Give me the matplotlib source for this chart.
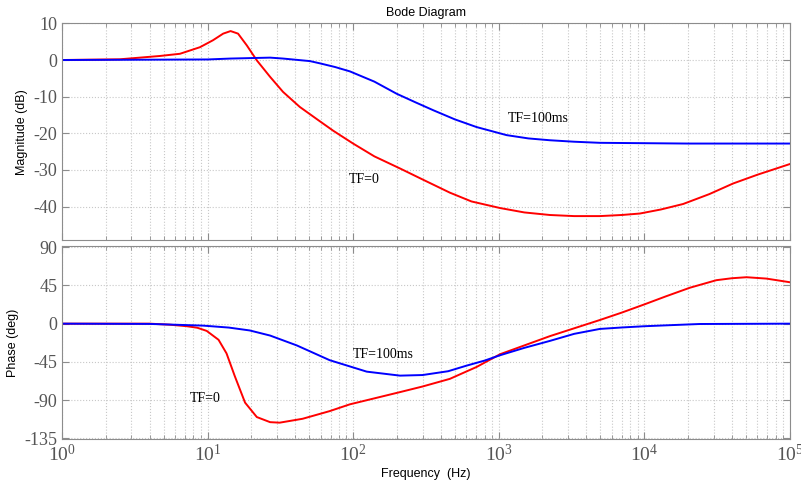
import numpy as np
import matplotlib
matplotlib.use("Agg")
import matplotlib.pyplot as plt
from matplotlib.ticker import LogLocator, FixedLocator, NullFormatter

plt.rcParams['axes.unicode_minus'] = False
plt.rcParams['mathtext.fontset'] = 'custom'
plt.rcParams['mathtext.rm'] = 'Liberation Serif'

# magnitude, TF=0 (red)
mag_red_f = [1, 2.5, 4.7, 6.46, 8.87, 10.9, 12.8, 14.4, 16.2, 18.6, 21.8, 26.9, 33, 43, 59, 73, 100,
             140, 210, 300, 462, 650, 1022, 1500, 2248, 3300, 4955, 7000, 9330, 13000, 18500,
             28000, 40800, 60000, 100000]
mag_red = [0, 0.2, 1.1, 1.7, 3.5, 5.4, 7.2, 7.9, 7.2, 4.0, -0.1, -4.6, -8.7, -12.8, -16.7, -19.3, -22.8,
           -26.3, -29.6, -32.6, -36.2, -38.6, -40.4, -41.6, -42.3, -42.6, -42.6, -42.3, -41.9, -40.8, -39.3,
           -36.6, -33.7, -31.3, -28.4]
# magnitude, TF=100ms (blue)
mag_blue_f = [1, 10, 14.4, 26.9, 33, 50.6, 59, 75, 95, 140, 199, 270, 355, 500, 705, 1133, 1600, 2248,
              3300, 4955, 20000, 100000]
mag_blue = [0, 0.15, 0.4, 0.65, 0.4, -0.3, -0.9, -1.9, -3.1, -5.9, -9.2, -11.6, -13.7, -16.2, -18.3,
            -20.5, -21.4, -21.9, -22.3, -22.6, -22.8, -22.8]

# phase, TF=0 (red)
ph_red_f = [1, 4, 5.5, 7.2, 8.5, 9.86, 11.9, 13.5, 15.4, 18.1, 21.8, 26.9, 31.3, 45, 69, 95, 210, 300,
            462, 705, 1022, 2248, 4955, 7000, 10100, 14000, 20560, 31300, 40000, 50400, 69000, 100000]
ph_red = [0, 0, -1.2, -3, -4.8, -8.5, -19, -35, -62, -93, -110, -116, -116.6, -112, -103, -95, -80.6,
          -74, -65, -51, -36, -14.7, 4.3, 13, 22.9, 32, 42.3, 51.2, 53.5, 54.7, 53.1, 48.8]
# phase, TF=100ms (blue)
ph_blue_f = [1, 4, 9.33, 14, 19.5, 26.9, 41, 69, 124, 210, 300, 450, 600, 800, 1022, 1500, 2248, 3300,
             4955, 7000, 10100, 14000, 24000, 100000]
ph_blue = [0, -0.3, -2.3, -4.6, -8, -14, -25.6, -43, -56.5, -61.2, -60.5, -56, -49.5, -43.5, -37.2,
           -28.5, -20.3, -12, -6.2, -4.5, -3, -2, -0.4, 0]

grey = '#8c8c8c'


def style_axes(ax, yticks):
    ax.set_xscale('log')
    ax.set_xlim(1, 1e5)
    ax.xaxis.set_major_locator(LogLocator(base=10, numticks=10))
    ax.xaxis.set_minor_locator(LogLocator(base=10, subs=np.arange(2, 10), numticks=10))
    ax.xaxis.set_minor_formatter(NullFormatter())
    ax.yaxis.set_major_locator(FixedLocator(yticks))
    ax.grid(True, which='major', color='#c8c8c8', linestyle=':', linewidth=0.8)
    ax.grid(True, which='minor', axis='x', color='#c8c8c8', linestyle=':', linewidth=0.8)
    ax.tick_params(which='both', direction='in', top=True, right=True, color=grey)
    ax.tick_params(which='major', length=5)
    ax.tick_params(which='minor', length=3)
    for s in ax.spines.values():
        s.set_color(grey)


fig = plt.figure(figsize=(8.01, 4.82), dpi=100)
ax1 = fig.add_axes([0.0774, 0.5015, 0.9086, 0.450])
ax2 = fig.add_axes([0.0774, 0.0898, 0.9086, 0.399])

ax1.plot(mag_red_f, mag_red, color='red', linewidth=1.4)
ax1.plot(mag_blue_f, mag_blue, color='blue', linewidth=1.4)
ax1.set_ylim(-49.2, 10)
style_axes(ax1, [10, 0, -10, -20, -30, -40])
ax1.set_yticklabels(['10', '0', '-10', '-20', '-30', '-40'], family='Liberation Serif',
                    fontsize=13, color='#555555')
ax1.tick_params(axis='x', labelbottom=False)
ax1.set_ylabel('Magnitude (dB)', family='Liberation Sans', fontsize=9)
ax1.set_title('Bode Diagram', family='Liberation Sans', fontsize=9, pad=5)
ax1.text(1150, -16.8, 'TF=100ms', family='Liberation Serif', fontsize=10)
ax1.text(93, -33.5, 'TF=0', family='Liberation Serif', fontsize=10)

ax2.plot(ph_red_f, ph_red, color='red', linewidth=1.4)
ax2.plot(ph_blue_f, ph_blue, color='blue', linewidth=1.4)
ax2.set_ylim(-135.5, 91)
style_axes(ax2, [90, 45, 0, -45, -90, -135])
ax2.set_yticklabels(['90', '45', '0', '-45', '-90', '-135'], family='Liberation Serif',
                    fontsize=13, color='#555555')
for lab in ax2.get_xticklabels():
    lab.set_family('Liberation Serif')
    lab.set_fontsize(14)
    lab.set_color('#555555')
ax2.set_ylabel('Phase (deg)', family='Liberation Sans', fontsize=9)
ax2.set_xlabel('Frequency  (Hz)', family='Liberation Sans', fontsize=9, labelpad=2)
ax2.text(100, -40, 'TF=100ms', family='Liberation Serif', fontsize=10)
ax2.text(7.5, -92, 'TF=0', family='Liberation Serif', fontsize=10)

fig.savefig('out.png', dpi=100)
